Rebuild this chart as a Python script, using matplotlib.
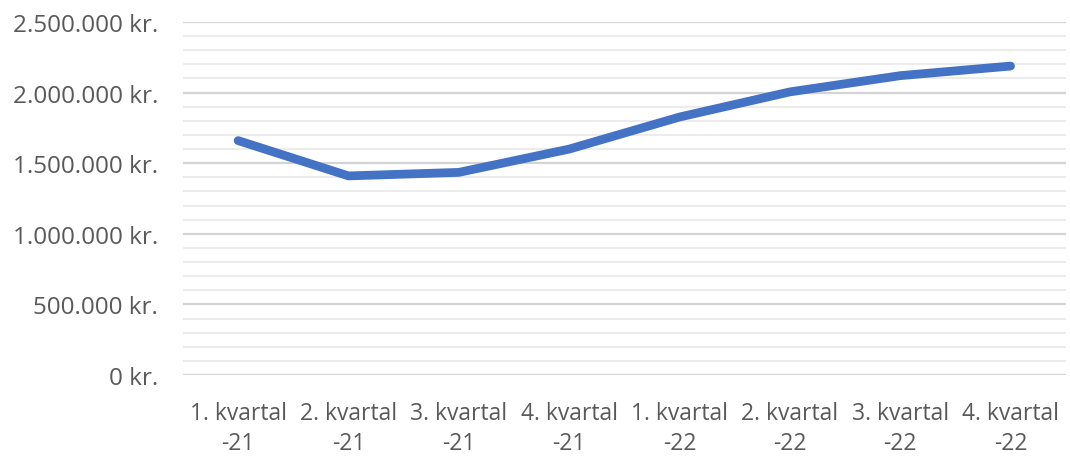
import numpy as np
import matplotlib.pyplot as plt
from matplotlib.ticker import MultipleLocator, FuncFormatter

# quarterly revenue
quarters = ['1. kvartal\n-21', '2. kvartal\n-21', '3. kvartal\n-21', '4. kvartal\n-21',
            '1. kvartal\n-22', '2. kvartal\n-22', '3. kvartal\n-22', '4. kvartal\n-22']
values = [1660000, 1410000, 1435000, 1600000, 1827000, 2005000, 2120000, 2188000]

def kr(v, pos):
    return '{:,.0f} kr.'.format(v).replace(',', '.')

plt.rcParams['font.family'] = ['Open Sans', 'DejaVu Sans']

fig = plt.figure(figsize=(10.7, 4.6), dpi=100)
ax = fig.add_axes([0.171, 0.1826, 0.825, 0.7674])

x = np.arange(len(quarters))
ax.plot(x, values, color='#4472C4', lw=6.3, solid_capstyle='round', solid_joinstyle='round', zorder=3)

ax.set_xlim(-0.5, len(quarters) - 0.5)
ax.set_ylim(0, 2500000)
ax.yaxis.set_major_locator(MultipleLocator(500000))
ax.yaxis.set_minor_locator(MultipleLocator(100000))
ax.yaxis.set_major_formatter(FuncFormatter(kr))
ax.grid(axis='y', which='major', color='#d4d4d4', lw=1.6)
ax.grid(axis='y', which='minor', color='#ececec', lw=1.5)
ax.set_axisbelow(True)

ax.set_xticks(x)
ax.set_xticklabels(quarters, linespacing=1.3)
ax.tick_params(axis='both', which='both', length=0, colors='#595959')
ax.tick_params(axis='y', labelsize=17.5, pad=18)
ax.tick_params(axis='x', labelsize=16.5, pad=19)
for s in ax.spines.values():
    s.set_visible(False)

fig.savefig('out.png', dpi=100)
